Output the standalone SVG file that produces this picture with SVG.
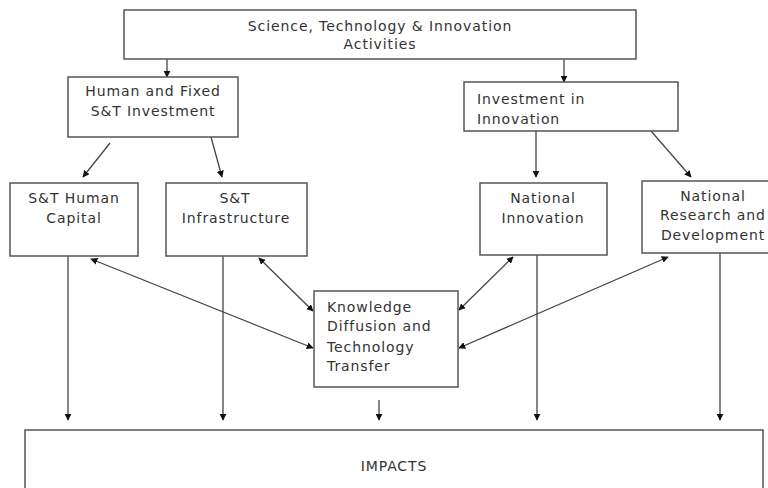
<svg xmlns="http://www.w3.org/2000/svg" width="768" height="488" viewBox="0 0 768 488">
<defs>
<style>
.box{fill:#fff;stroke:#555;stroke-width:1.5}
.t{font-family:"DejaVu Sans","Open Sans",sans-serif;font-size:14px;letter-spacing:0.9px;fill:#333}
.c{text-anchor:middle}
.ln{stroke:#444;stroke-width:1.3;fill:none}
</style>
<marker id="ah" viewBox="0 0 10 10" refX="9" refY="5" markerWidth="7" markerHeight="7" orient="auto-start-reverse" markerUnits="userSpaceOnUse">
<path d="M0,0 L10,5 L0,10 z" fill="#111"/>
</marker>
</defs>
<rect width="768" height="488" fill="#fff"/>
<g id="connectors">
<line class="ln" x1="167" y1="59" x2="167" y2="77" marker-end="url(#ah)"/>
<line class="ln" x1="564" y1="59" x2="564" y2="82" marker-end="url(#ah)"/>
<line class="ln" x1="110" y1="143" x2="83" y2="177" marker-end="url(#ah)"/>
<line class="ln" x1="211" y1="137" x2="222" y2="177" marker-end="url(#ah)"/>
<line class="ln" x1="536" y1="131" x2="536" y2="177" marker-end="url(#ah)"/>
<line class="ln" x1="651" y1="131" x2="691" y2="177" marker-end="url(#ah)"/>
<line class="ln" x1="91" y1="259" x2="313" y2="348" marker-start="url(#ah)" marker-end="url(#ah)"/>
<line class="ln" x1="259" y1="258" x2="313" y2="311" marker-start="url(#ah)" marker-end="url(#ah)"/>
<line class="ln" x1="513" y1="257" x2="459" y2="310" marker-start="url(#ah)" marker-end="url(#ah)"/>
<line class="ln" x1="668" y1="257" x2="459" y2="348" marker-start="url(#ah)" marker-end="url(#ah)"/>
<line class="ln" x1="68" y1="256" x2="68" y2="420" marker-end="url(#ah)"/>
<line class="ln" x1="223" y1="256" x2="223" y2="420" marker-end="url(#ah)"/>
<line class="ln" x1="379" y1="400" x2="379" y2="420" marker-end="url(#ah)"/>
<line class="ln" x1="537" y1="255" x2="537" y2="420" marker-end="url(#ah)"/>
<line class="ln" x1="720" y1="253" x2="720" y2="420" marker-end="url(#ah)"/>
</g>
<g id="sti">
<rect class="box" x="124" y="10" width="512" height="49"/>
<text class="t c" x="380" y="31">Science, Technology &amp; Innovation</text>
<text class="t c" x="380" y="49">Activities</text>
</g>
<g id="hfi">
<rect class="box" x="68" y="77" width="170" height="60"/>
<text class="t c" x="153" y="96">Human and Fixed</text>
<text class="t c" x="153" y="116">S&amp;T Investment</text>
</g>
<g id="ii">
<rect class="box" x="464" y="82" width="214" height="49"/>
<text class="t" x="477" y="104">Investment in</text>
<text class="t" x="477" y="124">Innovation</text>
</g>
<g id="sthc">
<rect class="box" x="10" y="183" width="128" height="73"/>
<text class="t c" x="74" y="203">S&amp;T Human</text>
<text class="t c" x="74" y="223">Capital</text>
</g>
<g id="sti2">
<rect class="box" x="166" y="183" width="141" height="73"/>
<text class="t c" x="235" y="203">S&amp;T</text>
<text class="t c" x="236" y="223">Infrastructure</text>
</g>
<g id="ni">
<rect class="box" x="480" y="183" width="127" height="72"/>
<text class="t c" x="543" y="203">National</text>
<text class="t c" x="543" y="223">Innovation</text>
</g>
<g id="nrd">
<rect class="box" x="642" y="181" width="130" height="72"/>
<text class="t c" x="713" y="201">National</text>
<text class="t c" x="713" y="220">Research and</text>
<text class="t c" x="713" y="240">Development</text>
</g>
<g id="kdtt">
<rect class="box" x="314" y="291" width="144" height="96"/>
<text class="t" x="327" y="312">Knowledge</text>
<text class="t" x="327" y="331">Diffusion and</text>
<text class="t" x="327" y="352">Technology</text>
<text class="t" x="327" y="371">Transfer</text>
</g>
<g id="impacts">
<rect class="box" x="25" y="430" width="738" height="70"/>
<text class="t c" x="394" y="471">IMPACTS</text>
</g>
</svg>
